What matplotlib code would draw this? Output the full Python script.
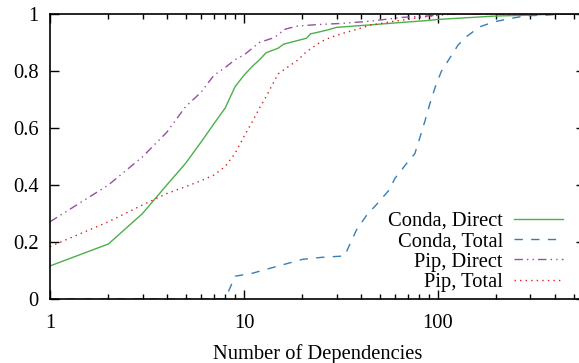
import matplotlib
matplotlib.use("Agg")
import matplotlib.pyplot as plt
from matplotlib.ticker import LogLocator, FixedLocator, FixedFormatter, NullFormatter

plt.rcParams['font.family'] = ['Liberation Serif', 'DejaVu Serif']

# ---- data ----
conda_direct_x = [1, 2, 3, 4, 5, 6, 7, 8, 9, 10, 11, 12, 13, 15, 16, 21, 22, 27, 30, 43, 64, 88, 100, 200, 300, 400, 600]
conda_direct_y = [0.116, 0.193, 0.30, 0.40, 0.476, 0.55, 0.615, 0.67, 0.745, 0.785, 0.815, 0.839, 0.864, 0.88, 0.894,
                  0.915, 0.93, 0.944, 0.953, 0.961, 0.97, 0.977, 0.981, 0.993, 0.996, 1.0, 1.0]

conda_total_x = [1, 8, 9, 11, 14, 20, 25, 33, 38, 43, 48, 56, 60, 69, 76, 81, 86, 91, 97, 104, 115, 127, 140, 164,
                 196, 240, 286, 362, 450, 600]
conda_total_y = [0.0, 0.0, 0.08, 0.09, 0.11, 0.139, 0.146, 0.151, 0.242, 0.295, 0.33, 0.382, 0.423, 0.476, 0.51,
                 0.57, 0.628, 0.687, 0.745, 0.798, 0.845, 0.891, 0.92, 0.955, 0.973, 0.985, 0.994, 0.996, 1.0, 1.0]

pip_direct_x = [1, 2, 3, 4, 5, 6, 7, 8, 9, 10, 12, 14, 15, 16, 17, 19, 24, 32, 45, 65, 93, 110, 600]
pip_direct_y = [0.271, 0.40, 0.499, 0.585, 0.675, 0.725, 0.785, 0.812, 0.84, 0.856, 0.90, 0.915, 0.926, 0.945, 0.95,
                0.958, 0.963, 0.967, 0.975, 0.988, 0.994, 1.0, 1.0]

pip_total_x = [1, 2, 3, 4, 5, 6, 7, 8, 9, 10, 11, 12, 13, 15, 19, 21, 25, 28, 33, 38, 45, 51, 60, 70, 80, 95, 120, 600]
pip_total_y = [0.184, 0.271, 0.33, 0.37, 0.394, 0.415, 0.435, 0.465, 0.511, 0.57, 0.62, 0.669, 0.71, 0.79, 0.839,
               0.868, 0.903, 0.918, 0.934, 0.946, 0.961, 0.967, 0.975, 0.981, 0.988, 0.994, 1.0, 1.0]

labels = ["Conda, Direct", "Conda, Total", "Pip, Direct", "Pip, Total"]
colors = ["#4daf4a", "#377eb8", "#984ea3", "#e41a1c"]

xticks = [1, 10, 100]
xticklabels = ["1", "10", "100"]
yticks = [0, 0.2, 0.4, 0.6, 0.8, 1.0]
yticklabels = ["0", "0.2", "0.4", "0.6", "0.8", "1"]

FS = 14.8
W, H = 579, 363
fig = plt.figure(figsize=(W / 100, H / 100), dpi=100)
# axes box: left 50px, right 585px (beyond figure edge), top 14px, bottom 299px
ax = fig.add_axes([50 / W, (H - 299) / H, (585 - 50) / W, (299 - 14) / H])

lw = 1.0
ax.plot(conda_direct_x, conda_direct_y, color=colors[0], lw=lw, ls='-', label=labels[0])
ax.plot(conda_total_x, conda_total_y, color=colors[1], lw=lw, ls=(0, (6, 6)), label=labels[1])
ax.plot(pip_direct_x, pip_direct_y, color=colors[2], lw=lw, ls=(0, (6, 3, 1, 3, 1, 3)), label=labels[2])
ax.plot(pip_total_x, pip_total_y, color=colors[3], lw=lw, ls=(0, (1, 3)), label=labels[3])

ax.set_xscale('log')
ax.set_xlim(1, 573)
ax.set_ylim(0, 1)

ax.xaxis.set_major_locator(FixedLocator(xticks))
ax.xaxis.set_major_formatter(FixedFormatter(xticklabels))
ax.xaxis.set_minor_locator(LogLocator(base=10, subs=range(2, 10)))
ax.xaxis.set_minor_formatter(NullFormatter())
ax.yaxis.set_major_locator(FixedLocator(yticks))
ax.yaxis.set_major_formatter(FixedFormatter(yticklabels))

ax.tick_params(which='both', direction='in', top=True, right=True, labelsize=FS, width=1.0, color='black')
ax.tick_params(which='major', length=6.5)
ax.tick_params(which='minor', length=3.5)
ax.tick_params(axis='y', pad=8)
ax.tick_params(axis='x', pad=11)
for s in ax.spines.values():
    s.set_linewidth(1.2)

ax.set_xlabel("Number of Dependencies", fontsize=FS, labelpad=8)

leg = ax.legend(loc='lower right', bbox_to_anchor=((563 - 50) / (585 - 50), (299 - 292) / 285),
                markerfirst=False, frameon=False, fontsize=FS, handlelength=2.38,
                handletextpad=0.55, labelspacing=0.05, borderpad=0, borderaxespad=0)

fig.savefig("out.png", dpi=100)
